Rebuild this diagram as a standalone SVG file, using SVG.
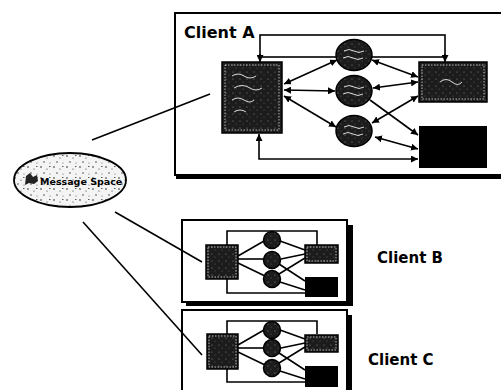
<svg xmlns="http://www.w3.org/2000/svg" width="501" height="390" viewBox="0 0 501 390">
<defs>
<marker id="ah" viewBox="0 0 10 10" refX="10" refY="5" markerWidth="7" markerHeight="7" markerUnits="userSpaceOnUse" orient="auto-start-reverse">
<path d="M0,0 L10,5 L0,10 z" fill="#000"/>
</marker>
<pattern id="speck" width="13" height="11" patternUnits="userSpaceOnUse">
<rect width="13" height="11" fill="#f4f4f4"/>
<circle cx="2" cy="2" r="0.8" fill="#222"/>
<circle cx="8" cy="4" r="0.6" fill="#333"/>
<circle cx="5" cy="8" r="0.7" fill="#222"/>
<circle cx="11" cy="9" r="0.5" fill="#444"/>
<rect x="10" y="1" width="1.5" height="0.8" fill="#333"/>
</pattern>
<pattern id="darkspeck" width="7" height="7" patternUnits="userSpaceOnUse">
<rect width="7" height="7" fill="#1c1c1c"/>
<circle cx="2" cy="2" r="0.6" fill="#888"/>
<circle cx="5" cy="5" r="0.5" fill="#666"/>
</pattern>
</defs>
<style>
.frame{fill:#fff;stroke:#000;stroke-width:2}
.shadow{fill:#000}
.dbox{fill:url(#darkspeck);stroke:#000;stroke-width:1.5}
.dinner{fill:none;stroke:#ddd;stroke-width:0.8;stroke-dasharray:1.5 1.5}
.black{fill:#000}
.node{fill:url(#darkspeck);stroke:#000;stroke-width:1.5}
.squig{fill:none;stroke:#eee;stroke-width:0.9}
.ln{fill:none;stroke:#000;stroke-width:1.6}
.ar{fill:none;stroke:#000;stroke-width:1.6;marker-end:url(#ah)}
.ar2{fill:none;stroke:#000;stroke-width:1.6;marker-end:url(#ah);marker-start:url(#ah)}
.lbl{font-family:"Comic Sans MS","DejaVu Sans",sans-serif;font-weight:bold;fill:#000}
</style>

<!-- Client frames -->
<g id="clientA">
<rect class="shadow" x="176" y="175" width="330" height="4"/>
<rect class="frame" x="175" y="13" width="340" height="162"/>
<text class="lbl" x="184" y="38" font-size="16">Client A</text>
</g>
<g id="clientB">
<rect class="shadow" x="347" y="225" width="6" height="81"/>
<rect class="shadow" x="186" y="302" width="167" height="4"/>
<rect class="frame" x="182" y="220" width="165" height="82"/>
<text class="lbl" x="377" y="263" font-size="15">Client B</text>
</g>
<g id="clientC">
<rect class="shadow" x="347" y="315" width="5" height="80"/>
<rect class="frame" x="182" y="310" width="165" height="90"/>
<text class="lbl" x="368" y="365" font-size="15">Client C</text>
</g>

<g id="connectors">
<!-- message space links -->
<line class="ln" x1="92" y1="140" x2="210" y2="94"/>
<line class="ln" x1="115" y1="212" x2="202" y2="262"/>
<line class="ln" x1="83" y1="222" x2="202" y2="355"/>
<!-- client A -->
<rect class="ln" x="260" y="35" width="185" height="22"/>
<line class="ar" x1="260" y1="54" x2="260" y2="62"/>
<line class="ar" x1="445" y1="54" x2="445" y2="62"/>
<path class="ar2" d="M418,159 H259 V134"/>
<line class="ar2" x1="284" y1="84" x2="337" y2="60"/>
<line class="ar2" x1="284" y1="90" x2="335" y2="91"/>
<line class="ar2" x1="284" y1="96" x2="336" y2="127"/>
<line class="ar2" x1="372" y1="60" x2="418" y2="77"/>
<line class="ar2" x1="373" y1="88" x2="418" y2="82"/>
<line class="ar" x1="370" y1="100" x2="418" y2="135"/>
<line class="ar2" x1="372" y1="123" x2="418" y2="96"/>
<line class="ar2" x1="375" y1="137" x2="418" y2="149"/>
<!-- client B -->
<path class="ln" d="M227,245 V231 H317 V245"/>
<path class="ln" d="M227,279 V293 H305"/>
<line class="ln" x1="238" y1="256" x2="264" y2="241"/>
<line class="ln" x1="238" y1="259" x2="264" y2="259"/>
<line class="ln" x1="238" y1="263" x2="265" y2="276"/>
<line class="ln" x1="280" y1="241" x2="305" y2="250"/>
<line class="ln" x1="281" y1="259" x2="305" y2="254"/>
<line class="ln" x1="279" y1="264" x2="305" y2="281"/>
<line class="ln" x1="279" y1="274" x2="305" y2="258"/>
<line class="ln" x1="280" y1="282" x2="305" y2="290"/>
<!-- client C -->
<g transform="translate(0,89)">
<path class="ln" d="M227,245 V232 H317 V245"/>
<path class="ln" d="M227,279 V293 H305"/>
<line class="ln" x1="238" y1="256" x2="264" y2="241"/>
<line class="ln" x1="238" y1="259" x2="264" y2="259"/>
<line class="ln" x1="238" y1="263" x2="265" y2="276"/>
<line class="ln" x1="280" y1="241" x2="305" y2="250"/>
<line class="ln" x1="281" y1="259" x2="305" y2="254"/>
<line class="ln" x1="279" y1="264" x2="305" y2="281"/>
<line class="ln" x1="279" y1="274" x2="305" y2="258"/>
<line class="ln" x1="280" y1="282" x2="305" y2="290"/>
</g>
</g>

<!-- Message space -->
<g id="messageSpace">
<ellipse cx="70" cy="180" rx="56" ry="27" fill="url(#speck)" stroke="#000" stroke-width="1.8"/>
<path d="M26,176 l4,-3 l3,4 l4,-2 l1,6 l-4,3 l-5,-1 l-4,2 z" fill="#222"/>
<text x="40" y="185" font-family="'Comic Sans MS','DejaVu Sans',sans-serif" font-weight="bold" font-size="9.5" fill="#000">Message Space</text>
</g>

<!-- Client A inner nodes -->
<g id="a_store">
<rect class="dbox" x="222" y="62" width="60" height="71"/>
<rect class="dinner" x="225" y="65" width="54" height="65"/>
<path class="squig" d="M232,76 q6,-4 12,0 q6,4 12,0 M234,88 q8,-5 16,0 q6,4 12,0 M232,100 q6,-4 12,0 q6,4 10,0 M234,112 q6,-4 12,0"/>
</g>
<g id="a_p1"><ellipse class="node" cx="354" cy="55" rx="18" ry="15.5"/><path class="squig" d="M344,51 q5,-3 10,0 q5,3 10,0 M343,58 q5,-3 10,0 q5,3 10,0"/></g>
<g id="a_p2"><ellipse class="node" cx="354" cy="91" rx="18" ry="15.5"/><path class="squig" d="M344,87 q5,-3 10,0 q5,3 10,0 M343,94 q5,-3 10,0 q5,3 10,0"/></g>
<g id="a_p3"><ellipse class="node" cx="354" cy="131" rx="18" ry="15.5"/><path class="squig" d="M344,127 q5,-3 10,0 q5,3 10,0 M343,134 q5,-3 10,0 q5,3 10,0"/></g>
<g id="a_gui">
<rect class="dbox" x="419" y="62" width="68" height="40"/>
<rect class="dinner" x="422" y="65" width="62" height="34"/>
<path class="squig" d="M440,82 q6,-5 12,0 q6,5 10,0"/>
</g>
<g id="a_out"><rect class="black" x="419" y="126" width="68" height="42"/></g>

<!-- Client B inner nodes -->
<g id="b_store"><rect class="dbox" x="206" y="245" width="32" height="34"/><rect class="dinner" x="208" y="247" width="28" height="30"/></g>
<g id="b_p1"><circle class="node" cx="272" cy="240" r="8.5"/></g>
<g id="b_p2"><circle class="node" cx="272" cy="260" r="8.5"/></g>
<g id="b_p3"><circle class="node" cx="272" cy="279" r="8.5"/></g>
<g id="b_gui"><rect class="dbox" x="305" y="245" width="33" height="18"/><rect class="dinner" x="307" y="247" width="29" height="14"/></g>
<g id="b_out"><rect class="black" x="305" y="277" width="33" height="20"/></g>

<!-- Client C inner nodes -->
<g id="c_store"><rect class="dbox" x="207" y="334" width="31" height="35"/><rect class="dinner" x="209" y="336" width="27" height="31"/></g>
<g id="c_p1"><circle class="node" cx="272" cy="330" r="8.5"/></g>
<g id="c_p2"><circle class="node" cx="272" cy="348" r="8.5"/></g>
<g id="c_p3"><circle class="node" cx="272" cy="368" r="8.5"/></g>
<g id="c_gui"><rect class="dbox" x="305" y="335" width="33" height="17"/><rect class="dinner" x="307" y="337" width="29" height="13"/></g>
<g id="c_out"><rect class="black" x="305" y="366" width="33" height="21"/></g>
</svg>
